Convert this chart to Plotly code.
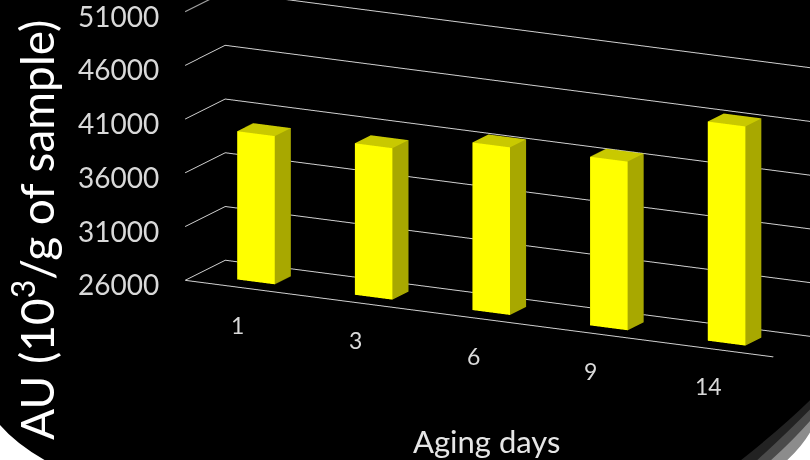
import math
import plotly.graph_objects as go

# Aging time (days) and AU measured for each
days = ["1", "3", "6", "9", "14"]
au = [39800, 40100, 41600, 41700, 46400]

# Value axis
z_ticks = [26000, 31000, 36000, 41000, 46000, 51000]
z_min, z_max = 26000, 51000

BAR_HALF_W = 0.16      # half bar width, in category units
BAR_Y0, BAR_Y1 = 0.30, 0.70  # bar footprint along the depth axis

FRONT = "#ffff00"
SIDE = "#a8a800"
TOP = "#c9c900"
DARK = "#6e6e00"

fig = go.Figure()

for i, v in enumerate(au):
    x0, x1 = i - BAR_HALF_W, i + BAR_HALF_W
    y0, y1 = BAR_Y0, BAR_Y1
    z0, z1 = z_min, v
    xs = [x0, x1, x1, x0, x0, x1, x1, x0]
    ys = [y0, y0, y1, y1, y0, y0, y1, y1]
    zs = [z0, z0, z0, z0, z1, z1, z1, z1]
    tri = [
        (0, 1, 2, DARK), (0, 2, 3, DARK),      # bottom
        (4, 5, 6, TOP), (4, 6, 7, TOP),        # top
        (0, 1, 5, FRONT), (0, 5, 4, FRONT),    # front
        (3, 2, 6, DARK), (3, 6, 7, DARK),      # back
        (0, 3, 7, DARK), (0, 7, 4, DARK),      # left
        (1, 2, 6, SIDE), (1, 6, 5, SIDE),      # right
    ]
    fig.add_trace(go.Mesh3d(
        x=xs, y=ys, z=zs,
        i=[t[0] for t in tri], j=[t[1] for t in tri], k=[t[2] for t in tri],
        facecolor=[t[3] for t in tri],
        flatshading=True,
        lighting=dict(ambient=1.0, diffuse=0.0, specular=0.0, roughness=1.0, fresnel=0.0),
        hoverinfo="skip",
        showscale=False,
    ))

# camera: seen from the front-right, slightly above
alpha = math.radians(27.0)
beta = math.radians(14.8)
R = 1.5
cx, cy, cz = -0.46, 0.0, -0.306
dx = math.sin(alpha) * math.cos(beta)
dy = -math.cos(alpha) * math.cos(beta)
dz = math.sin(beta)

TICK_COL = "#d9d9d9"
GRID_COL = "#d0d0d0"
FONT = "Lato"

# tick labels pinned to the scene's own coordinates
value_labels = [
    dict(x=-0.5, y=0, z=t, text=str(t), showarrow=False,
         xanchor="right", yanchor="middle", xshift=-24, yshift=-4,
         font=dict(family=FONT, size=28, color=TICK_COL))
    for t in z_ticks
]
day_labels = [
    dict(x=i, y=0, z=z_min, text=d, showarrow=False,
         xanchor="center", yanchor="middle", xshift=-6, yshift=-37,
         font=dict(family=FONT, size=23, color=TICK_COL))
    for i, d in enumerate(days)
]

fig.update_layout(
    width=810, height=460,
    margin=dict(l=0, r=0, t=0, b=0),
    paper_bgcolor="black",
    plot_bgcolor="black",
    showlegend=False,
    scene=dict(
        domain=dict(x=[0, 1], y=[0, 1]),
        bgcolor="rgba(0,0,0,0)",
        aspectmode="manual",
        aspectratio=dict(x=2.87, y=0.384, z=1.208),
        camera=dict(
            projection=dict(type="orthographic"),
            up=dict(x=0, y=0, z=1),
            center=dict(x=cx, y=cy, z=cz),
            eye=dict(x=cx + R * dx, y=cy + R * dy, z=cz + R * dz),
        ),
        xaxis=dict(
            range=[-0.5, 4.5],
            tickvals=list(range(len(days))), ticktext=days,
            showticklabels=False,
            showgrid=False, zeroline=False,
            showline=True, linecolor=GRID_COL, linewidth=2,
            ticks="", title=dict(text=""),
            showbackground=False, showspikes=False,
        ),
        yaxis=dict(
            range=[0, 1],
            showticklabels=False, showgrid=False, zeroline=False,
            showline=False, ticks="", title=dict(text=""),
            showbackground=False, showspikes=False,
        ),
        zaxis=dict(
            range=[z_min, z_max],
            tickvals=z_ticks, ticktext=[str(t) for t in z_ticks],
            showticklabels=False,
            showgrid=True, gridcolor=GRID_COL, gridwidth=2,
            zeroline=False, showline=False, ticks="",
            title=dict(text=""),
            showbackground=False, showspikes=False,
        ),
        annotations=value_labels + day_labels,
    ),
    annotations=[
        dict(text="AU (10<sup>3</sup>/g of sample)", textangle=-90,
             xref="paper", yref="paper", x=33 / 810, y=1 - 230 / 460,
             xanchor="center", yanchor="middle", showarrow=False,
             font=dict(family=FONT, size=46, color="white")),
        dict(text="Aging days",
             xref="paper", yref="paper", x=486 / 810, y=1 - 441 / 460,
             xanchor="center", yanchor="middle", showarrow=False,
             font=dict(family=FONT, size=31, color="#e6e6e6")),
    ],
    shapes=[
        # rounded frame corners
        dict(type="path", xref="paper", yref="paper", layer="above",
             path="M 0 0.076 Q 0.02 0.035 0.055 0 L 0 0 Z",
             fillcolor="white", line=dict(width=0)),
        dict(type="path", xref="paper", yref="paper", layer="above",
             path="M 0.915 0 Q 0.965 0.07 1 0.13 L 1 0 Z",
             fillcolor="#222222", line=dict(width=0)),
        dict(type="path", xref="paper", yref="paper", layer="above",
             path="M 0.935 0 Q 0.972 0.06 1 0.11 L 1 0 Z",
             fillcolor="#4a4a4a", line=dict(width=0)),
        dict(type="path", xref="paper", yref="paper", layer="above",
             path="M 0.952 0 Q 0.98 0.045 1 0.085 L 1 0 Z",
             fillcolor="#8c8c8c", line=dict(width=0)),
        dict(type="path", xref="paper", yref="paper", layer="above",
             path="M 0.972 0 Q 0.99 0.03 1 0.06 L 1 0 Z",
             fillcolor="white", line=dict(width=0)),
    ],
)

fig.write_html("out.html")
